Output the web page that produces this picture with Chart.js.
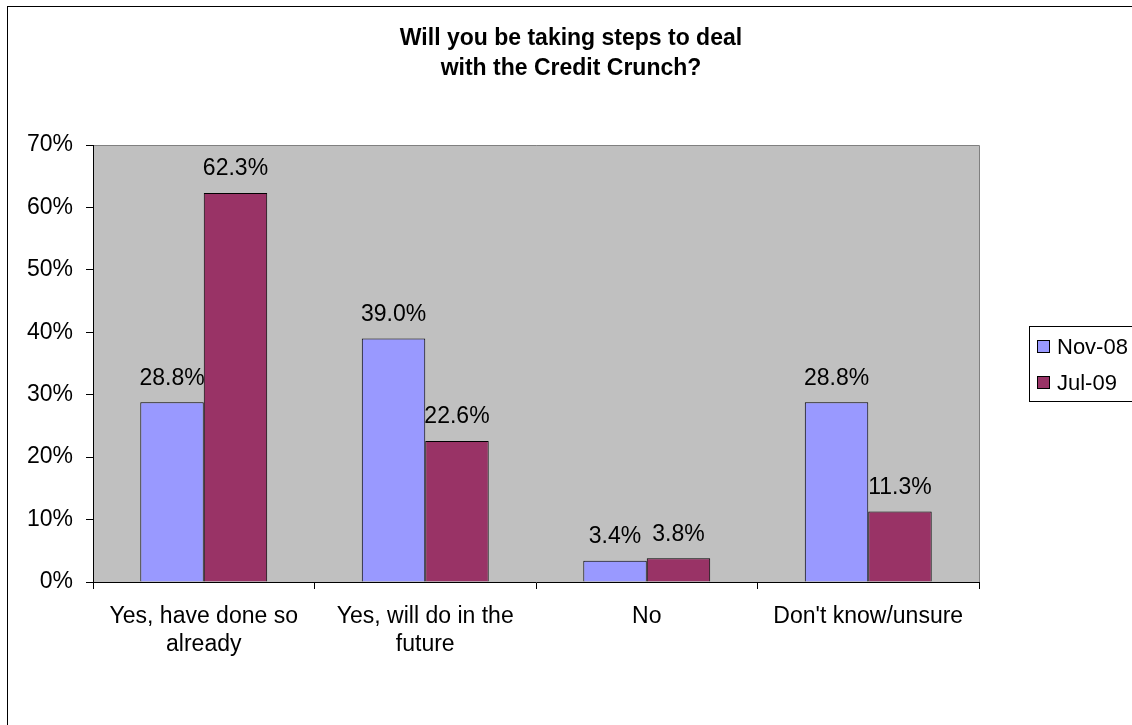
<!DOCTYPE html>
<html>
<head>
<meta charset="utf-8">
<title>Credit Crunch survey</title>
<script src="https://cdn.jsdelivr.net/npm/chart.js@4/dist/chart.umd.min.js"></script>
<style>
  html, body { margin: 0; padding: 0; background: #fff; }
  #wrap { width: 1132px; height: 725px; position: relative; }
</style>
</head>
<body>
<div id="wrap"><canvas id="c" width="1132" height="725"></canvas></div>
<script>
// Survey answers, in percent
const categories = [
  ["Yes, have done so", "already"],
  ["Yes, will do in the", "future"],
  "No",
  "Don't know/unsure"
];
const seriesNames = ["Nov-08", "Jul-09"];
const nov08 = [28.8, 39.0, 3.4, 28.8];
const jul09 = [62.3, 22.6, 3.8, 11.3];
const yTicks = [0, 10, 20, 30, 40, 50, 60, 70];
const titleLines = ["Will you be taking steps to deal", "with the Credit Crunch?"];

const FONT = '"Liberation Sans", Arial, sans-serif';
const colors = ['#9999FF', '#993366'];

// Grey plot background, frame lines, outer chart border
const frame = {
  id: 'frame',
  beforeDraw(chart) {
    const { ctx, chartArea: a } = chart;
    ctx.save();
    ctx.fillStyle = '#fff';
    ctx.fillRect(0, 0, chart.width, chart.height);
    ctx.fillStyle = '#C0C0C0';
    ctx.fillRect(a.left, a.top, a.right - a.left, a.bottom - a.top);
    ctx.strokeStyle = '#808080';
    ctx.lineWidth = 1;
    ctx.beginPath();
    ctx.moveTo(a.left, a.top + 0.5);
    ctx.lineTo(a.right + 0.5, a.top + 0.5);
    ctx.lineTo(a.right + 0.5, a.bottom);
    ctx.stroke();
    ctx.strokeStyle = '#000';
    ctx.strokeRect(7.5, 6.5, chart.width + 20, chart.height + 20);
    ctx.restore();
  }
};

// Title, value labels and legend
const annotate = {
  id: 'annotate',
  afterDatasetsDraw(chart) {
    const ctx = chart.ctx;
    ctx.save();
    ctx.fillStyle = '#000';
    ctx.textAlign = 'center';
    ctx.textBaseline = 'middle';
    ctx.font = '23px ' + FONT;
    chart.data.datasets.forEach((ds, i) => {
      chart.getDatasetMeta(i).data.forEach((bar, j) => {
        ctx.fillText(ds.data[j].toFixed(1) + '%', bar.x, bar.y - 24);
      });
    });
    ctx.restore();
  },
  afterDraw(chart) {
    const ctx = chart.ctx;
    ctx.save();
    ctx.fillStyle = '#000';
    ctx.textAlign = 'center';
    ctx.textBaseline = 'middle';
    ctx.font = 'bold 23px ' + FONT;
    titleLines.forEach((t, i) => ctx.fillText(t, 571, 39 + i * 30));

    // legend
    ctx.strokeStyle = '#000';
    ctx.lineWidth = 1;
    ctx.strokeRect(1029.5, 326.5, 140, 75);
    ctx.font = '22px ' + FONT;
    ctx.textAlign = 'left';
    chart.data.datasets.forEach((ds, i) => {
      const cy = 347 + i * 36;
      ctx.fillStyle = ds.backgroundColor;
      ctx.fillRect(1037.5, cy - 6.5, 12, 12);
      ctx.strokeRect(1037.5, cy - 6.5, 12, 12);
      ctx.fillStyle = '#000';
      ctx.fillText(ds.label, 1057, cy + 1);
    });
    ctx.restore();
  }
};

new Chart(document.getElementById('c'), {
  type: 'bar',
  data: {
    labels: categories,
    datasets: [
      { label: seriesNames[0], data: nov08, backgroundColor: colors[0], borderColor: '#000', borderWidth: 1 },
      { label: seriesNames[1], data: jul09, backgroundColor: colors[1], borderColor: '#000', borderWidth: 1 }
    ]
  },
  options: {
    responsive: false,
    animation: false,
    devicePixelRatio: 1,
    categoryPercentage: 0.573,
    barPercentage: 1.0,
    layout: { padding: { left: 0, top: 145, right: 153, bottom: 0 } },
    plugins: {
      legend: { display: false },
      title: { display: false },
      tooltip: { enabled: false }
    },
    scales: {
      x: {
        type: 'category',
        offset: true,
        grid: { offset: true, drawOnChartArea: false, tickLength: 7, color: '#000' },
        border: { color: '#000', width: 1 },
        ticks: {
          color: '#000',
          font: { family: FONT, size: 23, lineHeight: 1.22 },
          padding: 14,
          maxRotation: 0,
          autoSkip: false
        },
        afterFit(s) { s.height = 143; }
      },
      y: {
        min: 0,
        max: 70,
        afterBuildTicks(s) { s.ticks = yTicks.map(v => ({ value: v })); },
        grid: { drawOnChartArea: false, tickLength: 7, color: '#000' },
        border: { color: '#000', width: 1 },
        ticks: {
          color: '#000',
          font: { family: FONT, size: 23 },
          padding: 13,
          callback: v => v + '%'
        },
        afterFit(s) { s.width = 93; }
      }
    }
  },
  plugins: [frame, annotate]
});
</script>
</body>
</html>
